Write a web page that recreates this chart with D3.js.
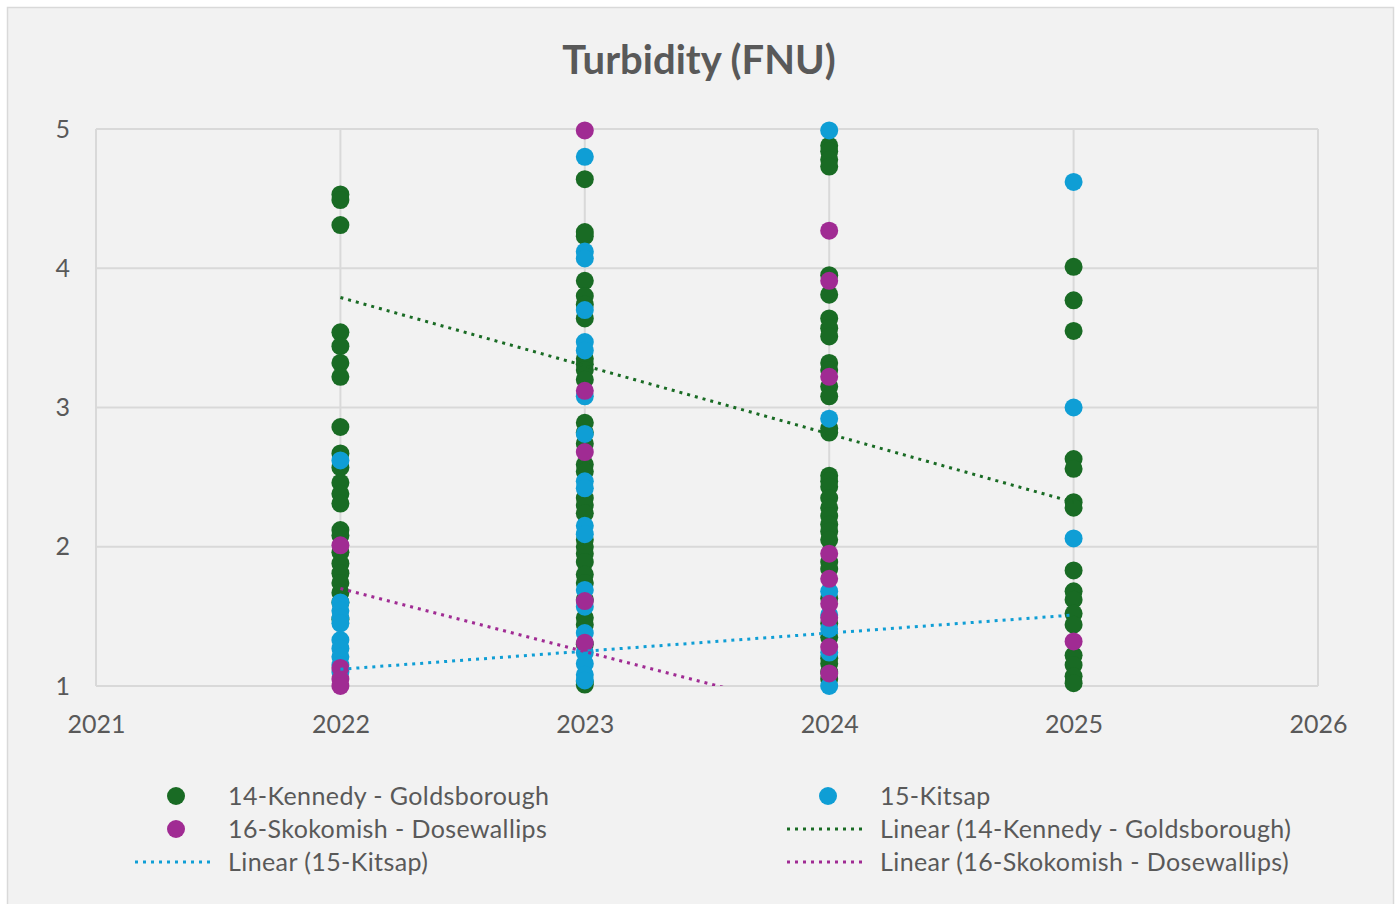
<!DOCTYPE html>
<html>
<head>
<meta charset="utf-8">
<script src="https://cdn.jsdelivr.net/npm/d3@7"></script>
<style>
  body { margin: 0; background: #ffffff; }
  text { font-family: Lato, "Noto Sans", sans-serif; fill: #595959; }
</style>
</head>
<body>
<div id="chart"></div>
<script>
// values, one list per station and year
const years = [2022, 2023, 2024, 2025];

const kennedy = [
  [4.53, 4.49, 4.31, 3.54, 3.44, 3.32, 3.22, 2.86, 2.67, 2.57, 2.46, 2.38, 2.31, 2.12, 2.08, 1.96, 1.88, 1.81, 1.74, 1.67, 1.60, 1.48],
  [4.64, 4.26, 4.23, 3.91, 3.80, 3.74, 3.64, 3.35, 3.31, 3.27, 3.20, 2.89, 2.82, 2.74, 2.59, 2.54, 2.35, 2.30, 2.24, 2.05, 2.00, 1.95, 1.89, 1.80, 1.74, 1.62, 1.49, 1.44, 1.30, 1.03, 1.01],
  [4.88, 4.84, 4.78, 4.73, 3.95, 3.81, 3.64, 3.57, 3.51, 3.32, 3.27, 3.15, 3.08, 2.85, 2.82, 2.51, 2.47, 2.43, 2.35, 2.28, 2.22, 2.16, 2.11, 2.05, 1.89, 1.84, 1.63, 1.45, 1.35, 1.20, 1.16, 1.10, 1.05],
  [4.01, 3.77, 3.55, 2.63, 2.56, 2.32, 2.28, 1.83, 1.68, 1.62, 1.52, 1.44, 1.22, 1.15, 1.07, 1.02]
];
const kitsap = [
  [2.62, 1.60, 1.54, 1.49, 1.45, 1.33, 1.27, 1.21, 1.15, 1.10],
  [4.80, 4.12, 4.07, 3.70, 3.47, 3.41, 3.08, 2.81, 2.47, 2.42, 2.15, 2.09, 1.69, 1.57, 1.38, 1.24, 1.16, 1.08, 1.04],
  [4.99, 2.92, 1.68, 1.51, 1.41, 1.24, 1.00],
  [4.62, 3.00, 2.06]
];
const skokomish = [
  [2.01, 1.13, 1.05, 1.00],
  [4.99, 3.12, 2.68, 1.61, 1.31],
  [4.27, 3.91, 3.22, 1.95, 1.77, 1.59, 1.49, 1.28, 1.09],
  [1.32]
];

// linear trend values at the first and last year (2022, 2025)
const trendYears = [2022, 2025];
const kennedyTrend = [3.79, 2.32];
const kitsapTrend = [1.12, 1.51];
const skokomishTrend = [1.70, 0.34];

const xTicks = [2021, 2022, 2023, 2024, 2025, 2026];
const yTicks = [1, 2, 3, 4, 5];

const series = [
  { name: "14-Kennedy - Goldsborough", color: "#196B24", values: kennedy, trend: kennedyTrend },
  { name: "15-Kitsap", color: "#0F9ED5", values: kitsap, trend: kitsapTrend },
  { name: "16-Skokomish - Dosewallips", color: "#A02B93", values: skokomish, trend: skokomishTrend }
];

const width = 1400, height = 904;
const margin = { top: 129, right: 82, bottom: 218, left: 96 };

const svg = d3.select("#chart")
  .append("svg")
  .attr("width", width)
  .attr("height", height);

// chart area background
svg.append("rect")
  .attr("x", 7.5).attr("y", 7.5)
  .attr("width", 1386).attr("height", 910)
  .attr("fill", "#f2f2f2")
  .attr("stroke", "#d9d9d9")
  .attr("stroke-width", 1.5);

const x = d3.scaleLinear()
  .domain([2021, 2026])
  .range([margin.left, width - margin.right]);

const y = d3.scaleLinear()
  .domain([1, 5])
  .range([height - margin.bottom, margin.top]);

svg.append("defs").append("clipPath").attr("id", "plot")
  .append("rect")
  .attr("x", x(2021)).attr("y", y(5) - 10)
  .attr("width", x(2026) - x(2021)).attr("height", y(1) - y(5) + 10);

// gridlines
svg.append("g")
  .selectAll("line")
  .data(yTicks)
  .join("line")
  .attr("x1", x(2021)).attr("x2", x(2026))
  .attr("y1", d => y(d)).attr("y2", d => y(d))
  .attr("stroke", "#d9d9d9").attr("stroke-width", 2);

svg.append("g")
  .selectAll("line")
  .data(xTicks)
  .join("line")
  .attr("x1", d => x(d)).attr("x2", d => x(d))
  .attr("y1", y(5)).attr("y2", y(1))
  .attr("stroke", "#d9d9d9").attr("stroke-width", 2);

// axes (labels only, Excel style)
const yAxis = svg.append("g")
  .attr("transform", `translate(${x(2021) - 26},0)`)
  .call(d3.axisLeft(y).tickValues(yTicks).tickSize(0).tickPadding(0).tickFormat(d3.format("d")));
yAxis.select(".domain").remove();
yAxis.selectAll("text").attr("font-size", "25px").attr("fill", "#595959")
  .style("font-family", "Lato, sans-serif");

const xAxis = svg.append("g")
  .attr("transform", `translate(0,${y(1) + 29})`)
  .call(d3.axisBottom(x).tickValues(xTicks).tickSize(0).tickPadding(0).tickFormat(d3.format("d")));
xAxis.select(".domain").remove();
xAxis.selectAll("text").attr("font-size", "25px").attr("fill", "#595959")
  .style("font-family", "Lato, sans-serif");

// points
series.forEach(s => {
  const pts = [];
  years.forEach((yr, i) => s.values[i].forEach(v => pts.push({ yr, v })));
  svg.append("g")
    .selectAll("circle")
    .data(pts)
    .join("circle")
    .attr("cx", d => x(d.yr))
    .attr("cy", d => y(d.v))
    .attr("r", 9)
    .attr("fill", s.color);
});

// trendlines
const line = d3.line().x(d => x(d[0])).y(d => y(d[1]));
series.forEach(s => {
  svg.append("path")
    .datum(trendYears.map((yr, i) => [yr, s.trend[i]]))
    .attr("d", line)
    .attr("clip-path", "url(#plot)")
    .attr("fill", "none")
    .attr("stroke", s.color)
    .attr("stroke-width", 3)
    .attr("stroke-dasharray", "3 5");
});

// title
svg.append("text")
  .attr("x", 699).attr("y", 74)
  .attr("text-anchor", "middle")
  .attr("font-size", "40px")
  .attr("font-weight", "bold")
  .text("Turbidity (FNU)");

// legend
const legendItems = [
  { label: series[0].name, color: series[0].color, type: "dot", col: 0, row: 0 },
  { label: series[1].name, color: series[1].color, type: "dot", col: 1, row: 0 },
  { label: series[2].name, color: series[2].color, type: "dot", col: 0, row: 1 },
  { label: "Linear (" + series[0].name + ")", color: series[0].color, type: "line", col: 1, row: 1 },
  { label: "Linear (" + series[1].name + ")", color: series[1].color, type: "line", col: 0, row: 2 },
  { label: "Linear (" + series[2].name + ")", color: series[2].color, type: "line", col: 1, row: 2 }
];
const colX = [228, 880];
const rowY = [796, 829, 862];

const legend = svg.append("g");
legendItems.forEach(d => {
  const g = legend.append("g").attr("transform", `translate(${colX[d.col]},${rowY[d.row]})`);
  if (d.type === "dot") {
    g.append("circle").attr("cx", -52).attr("cy", 0).attr("r", 9).attr("fill", d.color);
  } else {
    g.append("line").attr("x1", -93).attr("x2", -15).attr("y1", 0).attr("y2", 0)
      .attr("stroke", d.color).attr("stroke-width", 3).attr("stroke-dasharray", "3 5");
  }
  g.append("text").attr("x", 0).attr("y", 9)
    .attr("font-size", "25px")
    .attr("letter-spacing", "0.4px")
    .text(d.label);
});
</script>
</body>
</html>
